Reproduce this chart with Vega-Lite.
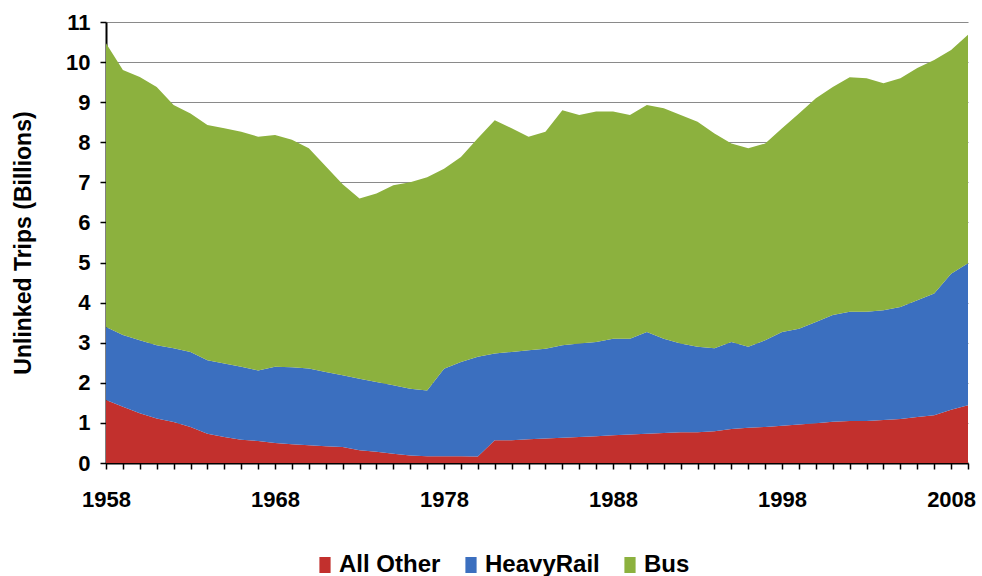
{
  "$schema": "https://vega.github.io/schema/vega-lite/v6.json",
  "width": 862,
  "height": 441,
  "autosize": {"type": "none"},
  "padding": {"left": 106, "top": 22, "right": 14, "bottom": 113},
  "background": "white",
  "config": {
    "view": {"stroke": null},
    "font": "Liberation Sans"
  },
  "datasets": {
    "modes": [
      {"mode": "All Other", "rank": 1},
      {"mode": "HeavyRail", "rank": 2},
      {"mode": "Bus", "rank": 3}
    ]
  },
  "data": {"values": [
    {"year":1958,"mode":"All Other","v":1.57},{"year":1958,"mode":"HeavyRail","v":1.82},{"year":1958,"mode":"Bus","v":7.08},
    {"year":1959,"mode":"All Other","v":1.40},{"year":1959,"mode":"HeavyRail","v":1.79},{"year":1959,"mode":"Bus","v":6.61},
    {"year":1960,"mode":"All Other","v":1.24},{"year":1960,"mode":"HeavyRail","v":1.82},{"year":1960,"mode":"Bus","v":6.57},
    {"year":1961,"mode":"All Other","v":1.11},{"year":1961,"mode":"HeavyRail","v":1.83},{"year":1961,"mode":"Bus","v":6.44},
    {"year":1962,"mode":"All Other","v":1.02},{"year":1962,"mode":"HeavyRail","v":1.84},{"year":1962,"mode":"Bus","v":6.07},
    {"year":1963,"mode":"All Other","v":0.90},{"year":1963,"mode":"HeavyRail","v":1.87},{"year":1963,"mode":"Bus","v":5.95},
    {"year":1964,"mode":"All Other","v":0.73},{"year":1964,"mode":"HeavyRail","v":1.83},{"year":1964,"mode":"Bus","v":5.87},
    {"year":1965,"mode":"All Other","v":0.65},{"year":1965,"mode":"HeavyRail","v":1.83},{"year":1965,"mode":"Bus","v":5.87},
    {"year":1966,"mode":"All Other","v":0.58},{"year":1966,"mode":"HeavyRail","v":1.82},{"year":1966,"mode":"Bus","v":5.86},
    {"year":1967,"mode":"All Other","v":0.55},{"year":1967,"mode":"HeavyRail","v":1.76},{"year":1967,"mode":"Bus","v":5.83},
    {"year":1968,"mode":"All Other","v":0.50},{"year":1968,"mode":"HeavyRail","v":1.90},{"year":1968,"mode":"Bus","v":5.78},
    {"year":1969,"mode":"All Other","v":0.47},{"year":1969,"mode":"HeavyRail","v":1.92},{"year":1969,"mode":"Bus","v":5.67},
    {"year":1970,"mode":"All Other","v":0.44},{"year":1970,"mode":"HeavyRail","v":1.92},{"year":1970,"mode":"Bus","v":5.49},
    {"year":1971,"mode":"All Other","v":0.42},{"year":1971,"mode":"HeavyRail","v":1.85},{"year":1971,"mode":"Bus","v":5.13},
    {"year":1972,"mode":"All Other","v":0.40},{"year":1972,"mode":"HeavyRail","v":1.79},{"year":1972,"mode":"Bus","v":4.76},
    {"year":1973,"mode":"All Other","v":0.32},{"year":1973,"mode":"HeavyRail","v":1.78},{"year":1973,"mode":"Bus","v":4.50},
    {"year":1974,"mode":"All Other","v":0.28},{"year":1974,"mode":"HeavyRail","v":1.74},{"year":1974,"mode":"Bus","v":4.70},
    {"year":1975,"mode":"All Other","v":0.23},{"year":1975,"mode":"HeavyRail","v":1.71},{"year":1975,"mode":"Bus","v":4.99},
    {"year":1976,"mode":"All Other","v":0.19},{"year":1976,"mode":"HeavyRail","v":1.66},{"year":1976,"mode":"Bus","v":5.15},
    {"year":1977,"mode":"All Other","v":0.17},{"year":1977,"mode":"HeavyRail","v":1.64},{"year":1977,"mode":"Bus","v":5.32},
    {"year":1978,"mode":"All Other","v":0.17},{"year":1978,"mode":"HeavyRail","v":2.18},{"year":1978,"mode":"Bus","v":4.99},
    {"year":1979,"mode":"All Other","v":0.17},{"year":1979,"mode":"HeavyRail","v":2.35},{"year":1979,"mode":"Bus","v":5.11},
    {"year":1980,"mode":"All Other","v":0.16},{"year":1980,"mode":"HeavyRail","v":2.49},{"year":1980,"mode":"Bus","v":5.45},
    {"year":1981,"mode":"All Other","v":0.57},{"year":1981,"mode":"HeavyRail","v":2.16},{"year":1981,"mode":"Bus","v":5.82},
    {"year":1982,"mode":"All Other","v":0.57},{"year":1982,"mode":"HeavyRail","v":2.20},{"year":1982,"mode":"Bus","v":5.58},
    {"year":1983,"mode":"All Other","v":0.59},{"year":1983,"mode":"HeavyRail","v":2.22},{"year":1983,"mode":"Bus","v":5.33},
    {"year":1984,"mode":"All Other","v":0.61},{"year":1984,"mode":"HeavyRail","v":2.24},{"year":1984,"mode":"Bus","v":5.41},
    {"year":1985,"mode":"All Other","v":0.63},{"year":1985,"mode":"HeavyRail","v":2.31},{"year":1985,"mode":"Bus","v":5.86},
    {"year":1986,"mode":"All Other","v":0.65},{"year":1986,"mode":"HeavyRail","v":2.33},{"year":1986,"mode":"Bus","v":5.70},
    {"year":1987,"mode":"All Other","v":0.67},{"year":1987,"mode":"HeavyRail","v":2.35},{"year":1987,"mode":"Bus","v":5.75},
    {"year":1988,"mode":"All Other","v":0.69},{"year":1988,"mode":"HeavyRail","v":2.41},{"year":1988,"mode":"Bus","v":5.67},
    {"year":1989,"mode":"All Other","v":0.71},{"year":1989,"mode":"HeavyRail","v":2.39},{"year":1989,"mode":"Bus","v":5.58},
    {"year":1990,"mode":"All Other","v":0.73},{"year":1990,"mode":"HeavyRail","v":2.54},{"year":1990,"mode":"Bus","v":5.66},
    {"year":1991,"mode":"All Other","v":0.75},{"year":1991,"mode":"HeavyRail","v":2.35},{"year":1991,"mode":"Bus","v":5.75},
    {"year":1992,"mode":"All Other","v":0.77},{"year":1992,"mode":"HeavyRail","v":2.21},{"year":1992,"mode":"Bus","v":5.70},
    {"year":1993,"mode":"All Other","v":0.77},{"year":1993,"mode":"HeavyRail","v":2.13},{"year":1993,"mode":"Bus","v":5.61},
    {"year":1994,"mode":"All Other","v":0.79},{"year":1994,"mode":"HeavyRail","v":2.07},{"year":1994,"mode":"Bus","v":5.36},
    {"year":1995,"mode":"All Other","v":0.85},{"year":1995,"mode":"HeavyRail","v":2.17},{"year":1995,"mode":"Bus","v":4.95},
    {"year":1996,"mode":"All Other","v":0.88},{"year":1996,"mode":"HeavyRail","v":2.02},{"year":1996,"mode":"Bus","v":4.95},
    {"year":1997,"mode":"All Other","v":0.90},{"year":1997,"mode":"HeavyRail","v":2.16},{"year":1997,"mode":"Bus","v":4.91},
    {"year":1998,"mode":"All Other","v":0.93},{"year":1998,"mode":"HeavyRail","v":2.34},{"year":1998,"mode":"Bus","v":5.08},
    {"year":1999,"mode":"All Other","v":0.96},{"year":1999,"mode":"HeavyRail","v":2.39},{"year":1999,"mode":"Bus","v":5.37},
    {"year":2000,"mode":"All Other","v":0.99},{"year":2000,"mode":"HeavyRail","v":2.53},{"year":2000,"mode":"Bus","v":5.58},
    {"year":2001,"mode":"All Other","v":1.03},{"year":2001,"mode":"HeavyRail","v":2.66},{"year":2001,"mode":"Bus","v":5.69},
    {"year":2002,"mode":"All Other","v":1.05},{"year":2002,"mode":"HeavyRail","v":2.72},{"year":2002,"mode":"Bus","v":5.85},
    {"year":2003,"mode":"All Other","v":1.05},{"year":2003,"mode":"HeavyRail","v":2.72},{"year":2003,"mode":"Bus","v":5.83},
    {"year":2004,"mode":"All Other","v":1.07},{"year":2004,"mode":"HeavyRail","v":2.74},{"year":2004,"mode":"Bus","v":5.66},
    {"year":2005,"mode":"All Other","v":1.10},{"year":2005,"mode":"HeavyRail","v":2.79},{"year":2005,"mode":"Bus","v":5.71},
    {"year":2006,"mode":"All Other","v":1.15},{"year":2006,"mode":"HeavyRail","v":2.91},{"year":2006,"mode":"Bus","v":5.79},
    {"year":2007,"mode":"All Other","v":1.19},{"year":2007,"mode":"HeavyRail","v":3.04},{"year":2007,"mode":"Bus","v":5.82},
    {"year":2008,"mode":"All Other","v":1.33},{"year":2008,"mode":"HeavyRail","v":3.39},{"year":2008,"mode":"Bus","v":5.58},
    {"year":2009,"mode":"All Other","v":1.44},{"year":2009,"mode":"HeavyRail","v":3.54},{"year":2009,"mode":"Bus","v":5.70}
  ]},
  "transform": [
    {"lookup": "mode", "from": {"data": {"name": "modes"}, "key": "mode", "fields": ["rank"]}}
  ],
  "mark": {"type": "area", "interpolate": "linear", "opacity": 1},
  "encoding": {
    "x": {
      "field": "year",
      "type": "quantitative",
      "scale": {"domain": [1958, 2009], "nice": false, "zero": false},
      "axis": {
        "title": null,
        "values": [1958,1959,1960,1961,1962,1963,1964,1965,1966,1967,1968,1969,1970,1971,1972,1973,1974,1975,1976,1977,1978,1979,1980,1981,1982,1983,1984,1985,1986,1987,1988,1989,1990,1991,1992,1993,1994,1995,1996,1997,1998,1999,2000,2001,2002,2003,2004,2005,2006,2007,2008,2009],
        "format": "d",
        "labelExpr": "(datum.value - 1958) % 10 == 0 ? datum.label : ''",
        "labelOverlap": false,
        "labelFlush": false,
        "labelFontSize": 22,
        "labelFontWeight": "bold",
        "labelColor": "black",
        "labelPadding": 20,
        "tickSize": 6,
        "tickColor": "black",
        "tickWidth": 1.5,
        "domainColor": "black",
        "domainWidth": 2,
        "grid": false
      }
    },
    "y": {
      "field": "v",
      "type": "quantitative",
      "stack": "zero",
      "scale": {"domain": [0, 11], "nice": false},
      "axis": {
        "title": "Unlinked Trips (Billions)",
        "titleFontSize": 23,
        "titleFontWeight": "bold",
        "titleColor": "black",
        "titlePadding": 30,
        "values": [0,1,2,3,4,5,6,7,8,9,10,11],
        "labelFontSize": 22,
        "labelFontWeight": "bold",
        "labelColor": "black",
        "labelPadding": 10,
        "tickSize": 6,
        "tickColor": "black",
        "tickWidth": 1.5,
        "domainColor": "black",
        "domainWidth": 2,
        "grid": true,
        "gridColor": "#8a8a8a",
        "gridWidth": 1.2
      }
    },
    "color": {
      "field": "mode",
      "type": "nominal",
      "sort": ["All Other", "HeavyRail", "Bus"],
      "scale": {
        "domain": ["All Other", "HeavyRail", "Bus"],
        "range": ["#C2302D", "#3B6FBF", "#8CB13E"]
      },
      "legend": {
        "title": null,
        "orient": "none",
        "legendX": 207,
        "legendY": 531,
        "direction": "horizontal",
        "columns": 3,
        "columnPadding": 18,
        "symbolType": "M-0.7,-1H0.7V1H-0.7Z",
        "symbolSize": 256,
        "symbolStrokeWidth": 0,
        "labelOffset": 2,
        "labelFontSize": 24,
        "labelFontWeight": "bold",
        "labelColor": "black",
        "labelLimit": 300
      }
    },
    "order": {"field": "rank", "type": "quantitative", "sort": "ascending"}
  }
}
